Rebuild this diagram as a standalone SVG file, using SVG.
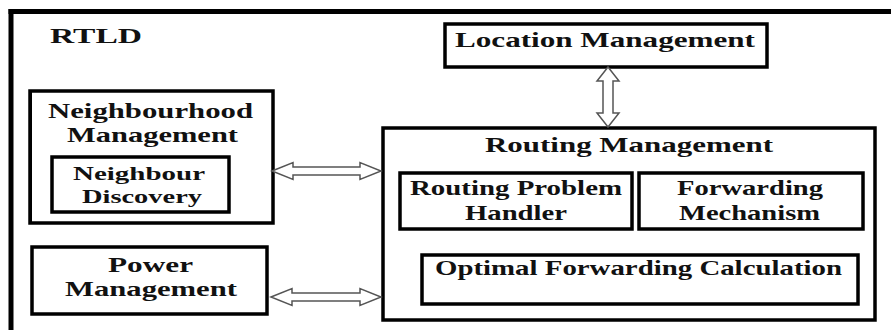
<svg xmlns="http://www.w3.org/2000/svg" width="891" height="330" viewBox="0 0 891 330">
<style>
.box{fill:#fff;stroke:#000;stroke-width:3.5}
.sh{stroke:#000;stroke-width:2;fill:none}
.t{font-family:"Liberation Serif","Times New Roman",serif;font-weight:bold;font-size:21px;fill:#111}
.s{font-size:19px}
.arr{fill:#fff;stroke:#555;stroke-width:1.5;stroke-linejoin:miter}
</style>
<rect width="891" height="330" fill="#fff"/>
<g id="frame">
<line x1="8.5" y1="11.5" x2="891" y2="11.5" stroke="#000" stroke-width="5"/>
<line x1="11" y1="9" x2="11" y2="330" stroke="#000" stroke-width="5"/>
<text class="t" x="50" y="43" textLength="92" lengthAdjust="spacingAndGlyphs">RTLD</text>
</g>
<g id="location">
<rect class="box" x="445" y="24" width="322" height="43"/>
<text class="t" x="455" y="47" textLength="300" lengthAdjust="spacingAndGlyphs">Location Management</text>
</g>
<g id="neighbourhood">
<rect class="box" x="30" y="91" width="243" height="132"/>
<line class="sh" x1="31" y1="91" x2="31" y2="224"/>
<text class="t" x="48" y="118" textLength="205" lengthAdjust="spacingAndGlyphs">Neighbourhood</text>
<text class="t" x="67" y="142" textLength="171" lengthAdjust="spacingAndGlyphs">Management</text>
<g id="discovery">
<rect class="box" x="52" y="157" width="177" height="55"/>
<text class="t s" x="73" y="180" textLength="132" lengthAdjust="spacingAndGlyphs">Neighbour</text>
<text class="t s" x="82" y="203" textLength="120" lengthAdjust="spacingAndGlyphs">Discovery</text>
</g>
</g>
<g id="power">
<rect class="box" x="32" y="247" width="235" height="67"/>
<text class="t" x="108" y="272" textLength="85" lengthAdjust="spacingAndGlyphs">Power</text>
<text class="t" x="65" y="296" textLength="172" lengthAdjust="spacingAndGlyphs">Management</text>
</g>
<g id="routing">
<rect class="box" x="383" y="128" width="492" height="192"/>
<text class="t" x="485" y="152" textLength="288" lengthAdjust="spacingAndGlyphs">Routing Management</text>
<g id="problem">
<rect class="box" x="400" y="173" width="232" height="56"/>
<text class="t" x="410" y="195" textLength="212" lengthAdjust="spacingAndGlyphs">Routing Problem</text>
<text class="t" x="465" y="220" textLength="102" lengthAdjust="spacingAndGlyphs">Handler</text>
</g>
<g id="forwarding">
<rect class="box" x="639" y="173" width="224" height="56"/>
<text class="t" x="677" y="195" textLength="146" lengthAdjust="spacingAndGlyphs">Forwarding</text>
<text class="t" x="679" y="220" textLength="141" lengthAdjust="spacingAndGlyphs">Mechanism</text>
</g>
<g id="optimal">
<rect class="box" x="422" y="255" width="436" height="49"/>
<text class="t" x="435" y="275" textLength="407" lengthAdjust="spacingAndGlyphs">Optimal Forwarding Calculation</text>
</g>
</g>
<g id="connectors">
<polygon class="arr" points="272,171 293,162.5 293,167 360,167 360,162.5 381,171 360,179.5 360,175 293,175 293,179.5"/>
<polygon class="arr" points="271,297 292,288.5 292,293 360,293 360,288.5 381,297 360,305.5 360,301 292,301 292,305.5"/>
<polygon class="arr" points="608,67 619,81 613,81 613,113 619,113 608,127 597,113 603,113 603,81 597,81"/>
</g>
</svg>
